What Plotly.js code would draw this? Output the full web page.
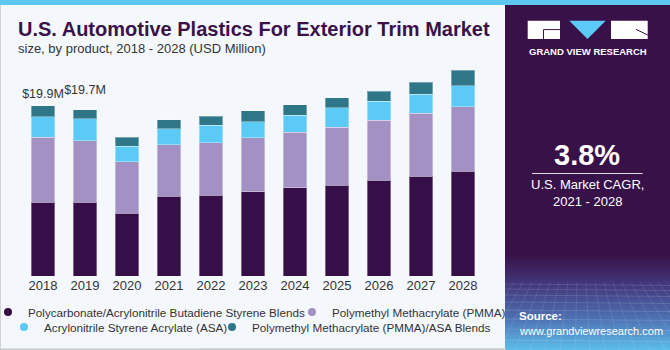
<!DOCTYPE html>
<html><head><meta charset="utf-8">
<script src="https://cdn.plot.ly/plotly-3.0.1.min.js"></script>
<style>html,body{margin:0;padding:0;background:#f4f8fc;overflow:hidden}#chart{width:670px;height:350px}</style>
</head><body><div id="chart"></div>
<script>
// ---- data (USD Million) ----
const years = ['2018','2019','2020','2021','2022','2023','2024','2025','2026','2027','2028'];
const pcAbsBlends = [8.63, 8.63, 7.31, 9.33, 9.44, 9.83, 10.29, 10.61, 11.16, 11.66, 12.24];
const pmma        = [7.58, 7.15, 6.02, 5.98, 6.10, 6.30, 6.49, 6.76, 7.03, 7.38, 7.54];
const asa         = [2.37, 2.61, 1.80, 1.87, 2.06, 1.91, 2.02, 2.30, 2.21, 2.18, 2.45];
const pmmaAsa     = [1.33, 1.05, 1.09, 1.09, 1.05, 1.24, 1.21, 1.17, 1.20, 1.43, 1.82];
const seriesNames = ['Polycarbonate/Acrylonitrile Butadiene Styrene Blends', 'Polymethyl Methacrylate (PMMA)',
                     'Acrylonitrile Styrene Acrylate (ASA)', 'Polymethyl Methacrylate (PMMA)/ASA Blends'];
const labelYears = ['2018', '2019'];
const totalLabels = ['$19.9M', '$19.7M'];
const cagrValue = '3.8%';
const cagrText = 'U.S. Market CAGR,<br>2021 - 2028';

// ---- styling ----
const colors = ['#370f48', '#a491c4', '#5ccaf6', '#2f7688'];
const series = [pcAbsBlends, pmma, asa, pmmaAsa];
const FONT = 'Liberation Sans, Arial, sans-serif';

const W = 670, H = 350;
const L = 0, R = 670, T = 62, B = 276;
const X = px => (px - L) / (R - L);
const Y = py => (B - py) / (B - T);
// category axis placement: first category centred at 43px, 42px per category
const firstCenter = 43, step = 42;
// legend entry placement (left edge px, row centre px, indentation px)
const legendSpots = [[0, 312, -12], [292, 312, 0], [4, 327, 0], [212, 327, 0]];
const legendIds = ['legend', 'legend2', 'legend3', 'legend4'];

const traces = [];
series.forEach((vals, i) => {
  traces.push({
    type: 'bar', x: years, y: vals, name: seriesNames[i], showlegend: false,
    marker: {color: colors[i], line: {color: 'rgba(255,255,255,0.35)', width: 1}},
    hoverinfo: 'skip'
  });
});
// total labels above the first two bars
const totals = years.map((_, k) => series.reduce((s, arr) => s + arr[k], 0));
traces.push({
  type: 'scatter', mode: 'markers+text', x: labelYears, y: labelYears.map(y => totals[years.indexOf(y)]),
  text: totalLabels, textposition: 'top center', cliponaxis: false, showlegend: false, hoverinfo: 'skip',
  marker: {size: [6, 18], opacity: 0, color: '#000'},
  textfont: {family: FONT, size: 12.5, color: '#333333'}
});
// legend entries (circle symbols)
series.forEach((vals, i) => {
  traces.push({
    type: 'scatter', mode: 'markers', x: [null], y: [null], name: seriesNames[i],
    marker: {color: colors[i], size: 8, symbol: 'circle'},
    legend: legendIds[i], showlegend: true
  });
});

const shapes = [];
const annotations = [];
const rect = (x0, x1, y0, y1, fill, layer) => shapes.push({type: 'rect', xref: 'paper', yref: 'paper',
  x0: X(x0), x1: X(x1), y0: Y(y1), y1: Y(y0), fillcolor: fill, line: {width: 0}, layer: layer || 'below'});

// frame
rect(0, 0.8, 5, 350, '#c8c8c8');
rect(0, 506, 348.6, 350, '#c8c8c8');
// right panel
rect(505, 671, 0, 350, '#381149');
// panel gradient (bottom)
const stops = [[255, [56, 17, 73]], [285, [66, 56, 124]], [318, [78, 112, 178]], [350, [92, 190, 234]]];
function colAt(y) {
  for (let s = 0; s < stops.length - 1; s++) {
    const [ya, ca] = stops[s], [yb, cb] = stops[s + 1];
    if (y >= ya && y <= yb) {
      const t = (y - ya) / (yb - ya);
      return 'rgb(' + ca.map((c, j) => Math.round(c + (cb[j] - c) * t)).join(',') + ')';
    }
  }
  return 'rgb(92,190,234)';
}
for (let y = 255; y < 350; y += 2) rect(505, 671, y, y + 2.2, colAt(y + 1));
// grid texture
const hLines = [284, 289, 295, 302, 310, 319, 329, 340];
hLines.forEach(y => shapes.push({type: 'line', xref: 'paper', yref: 'paper', x0: X(505), x1: X(671), y0: Y(y), y1: Y(y + 1.5), line: {color: 'rgba(255,255,255,0.13)', width: 1}, layer: 'below'}));
for (let k = -6; k <= 18; k++) {
  const xt = 505 + k * 9, xb = 505 + (k - 6) * 15 + 40;
  shapes.push({type: 'line', xref: 'paper', yref: 'paper', x0: X(Math.max(xt, 505)), x1: X(xb), y0: Y(282), y1: Y(350), line: {color: 'rgba(255,255,255,0.10)', width: 1}, layer: 'below'});
}
// cover grid lines that leak left of panel
rect(200, 505, 280, 348.6, '#f4f8fc');
rect(200, 506, 348.6, 350, '#c8c8c8');
// top strip
rect(0, 671, 0, 5, '#5ec8f2');

// logo
rect(527.7, 560, 20.7, 39, '#ffffff', 'above');
shapes.push({type: 'path', xref: 'paper', yref: 'paper', path: `M ${X(569.3)},${Y(20.7)} L ${X(605.7)},${Y(20.7)} L ${X(587.5)},${Y(39)} Z`, fillcolor: '#5ccaf6', line: {width: 0}});
rect(611, 647.7, 20.7, 39, '#ffffff', 'above');
shapes.push({type: 'line', xref: 'paper', yref: 'paper', x0: X(543.5), x1: X(560), y0: Y(29.6), y1: Y(29.6), line: {color: '#381149', width: 1}});
shapes.push({type: 'line', xref: 'paper', yref: 'paper', x0: X(543.5), x1: X(543.5), y0: Y(29.6), y1: Y(39), line: {color: '#381149', width: 1}});
shapes.push({type: 'line', xref: 'paper', yref: 'paper', x0: X(636), x1: X(647.7), y0: Y(29.3), y1: Y(35), line: {color: '#381149', width: 1}});
// CAGR divider
shapes.push({type: 'line', xref: 'paper', yref: 'paper', x0: X(532), x1: X(642.7), y0: Y(173.5), y1: Y(173.5), line: {color: 'rgba(255,255,255,0.85)', width: 1}});

// texts
const note = (px, py, text, font, xanchor) => annotations.push({xref: 'paper', yref: 'paper', x: X(px), y: Y(py),
  xanchor: xanchor || 'left', yanchor: 'middle', showarrow: false, text: text, font: font});
note(16, 28.5, '<b>U.S. Automotive Plastics For Exterior Trim Market</b>', {family: FONT, size: 20, color: '#3a1249'});
note(16, 48, 'size, by product, 2018 - 2028 (USD Million)', {family: FONT, size: 13, color: '#333333'});
note(587.7, 51.2, '<b>GRAND VIEW RESEARCH</b>', {family: FONT, size: 9.5, color: '#ffffff'}, 'center');
note(587, 155, '<b>' + cagrValue + '</b>', {family: FONT, size: 29, color: '#ffffff'}, 'center');
note(587, 193.5, cagrText, {family: FONT, size: 13, color: '#ffffff'}, 'center');
note(517, 316, '<b>Source:</b>', {family: FONT, size: 11.5, color: '#ffffff'});
note(517, 331, 'www.grandviewresearch.com', {family: FONT, size: 11, color: '#ffffff'});

const layout = {
  width: W, height: H,
  margin: {l: L, r: W - R, t: T, b: H - B, pad: 0, autoexpand: false},
  paper_bgcolor: '#f4f8fc', plot_bgcolor: 'rgba(0,0,0,0)',
  barmode: 'stack', bargap: 0.43,
  showlegend: true,
  xaxis: {type: 'category', categoryorder: 'array', categoryarray: years,
    range: [(L - firstCenter) / step, (R - firstCenter) / step],
    showgrid: false, zeroline: false, showline: false, ticks: '', tickfont: {family: FONT, size: 13, color: '#333333'}, fixedrange: true},
  yaxis: {range: [0, 25], showgrid: false, zeroline: false, showline: false, showticklabels: false, fixedrange: true},
  shapes: shapes, annotations: annotations,
  font: {family: FONT}
};
legendIds.forEach((id, i) => {
  layout[id] = {orientation: 'h', xref: 'container', yref: 'container', xanchor: 'left', yanchor: 'middle',
    x: legendSpots[i][0] / W, y: 1 - legendSpots[i][1] / H, indentation: legendSpots[i][2],
    bgcolor: 'rgba(0,0,0,0)', font: {family: FONT, size: 11.7, color: '#333333'}, itemclick: false, itemdoubleclick: false,
    traceorder: 'normal', borderwidth: 0};
});

Plotly.newPlot('chart', traces, layout, {displayModeBar: false, staticPlot: true});
</script></body></html>
